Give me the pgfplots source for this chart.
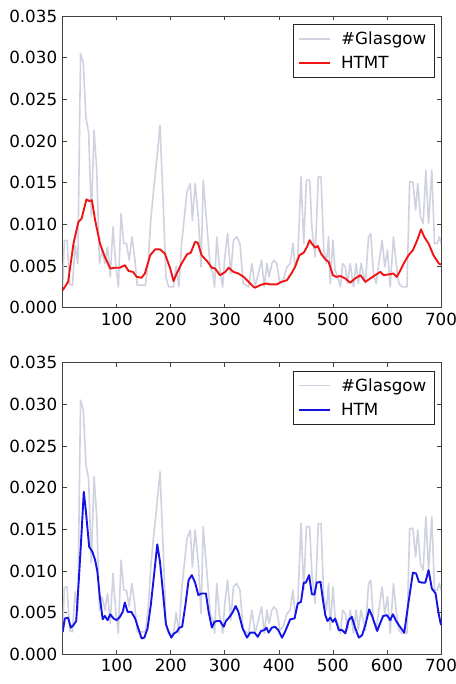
\documentclass[border=0pt]{standalone}
\usepackage{fontspec}
\setmainfont{DejaVu Sans}
\usepackage{pgfplots}
\usepackage{pgfplotstable}
\pgfplotsset{compat=1.18}

\definecolor{tweetgray}{RGB}{208,210,225}
\definecolor{htmtred}{RGB}{240,20,20}
\definecolor{htmblue}{RGB}{20,20,230}

% Normalised frequency of the #Glasgow hashtag
\pgfplotstableread{
x y
0 0.0025
3 0.0080
8 0.0081
13 0.0028
18 0.0027
23 0.0075
28 0.0053
33 0.0305
38 0.0294
43 0.0228
48 0.0210
53 0.0110
58 0.0213
63 0.0165
68 0.0053
73 0.0069
78 0.0053
83 0.0073
88 0.0037
93 0.0097
98 0.0053
103 0.0025
108 0.0113
113 0.0077
118 0.0077
123 0.0057
128 0.0085
133 0.0061
138 0.0027
143 0.0027
148 0.0027
153 0.0027
158 0.0053
163 0.0105
168 0.0140
174 0.0177
180 0.0219
186 0.0125
191 0.0037
196 0.0025
205 0.0025
210 0.0050
215 0.0025
220 0.0077
230 0.0139
236 0.0149
240 0.0105
245 0.0149
251 0.0109
256 0.0049
260 0.0153
267 0.0097
273 0.0049
278 0.0041
281 0.0025
285 0.0085
290 0.0049
296 0.0025
300 0.0061
305 0.0089
311 0.0041
316 0.0081
322 0.0085
328 0.0077
334 0.0029
344 0.0025
350 0.0053
356 0.0025
362 0.0041
368 0.0057
373 0.0025
378 0.0053
382 0.0037
387 0.0053
391 0.0057
396 0.0053
402 0.0029
408 0.0033
415 0.0049
421 0.0053
426 0.0077
430 0.0049
435 0.0061
441 0.0157
446 0.0077
451 0.0153
457 0.0153
461 0.0097
467 0.0061
473 0.0157
478 0.0157
483 0.0069
488 0.0053
492 0.0085
495 0.0029
500 0.0081
504 0.0045
509 0.0037
514 0.0025
518 0.0053
523 0.0049
527 0.0029
532 0.0053
538 0.0025
543 0.0053
547 0.0029
552 0.0053
560 0.0029
566 0.0085
570 0.0089
575 0.0041
580 0.0029
585 0.0053
591 0.0081
596 0.0049
601 0.0069
606 0.0025
612 0.0085
617 0.0053
622 0.0029
628 0.0025
633 0.0025
637 0.0025
642 0.0151
648 0.0151
653 0.0117
657 0.0149
662 0.0109
667 0.0101
672 0.0165
677 0.0101
683 0.0165
688 0.0077
693 0.0077
697 0.0085
700 0.0077
}\glasgow

% HTMT prediction
\pgfplotstableread{
x y
0 0.0021
10 0.0031
20 0.0077
29 0.0103
35 0.0107
44 0.0130
49 0.0128
54 0.0129
60 0.0105
69 0.0077
78 0.0061
88 0.0047
97 0.0048
106 0.0048
115 0.0051
122 0.0044
130 0.0043
137 0.0037
146 0.0036
152 0.0041
162 0.0063
171 0.0070
180 0.0070
189 0.0065
199 0.0047
205 0.0032
211 0.0041
220 0.0053
230 0.0064
237 0.0066
245 0.0079
250 0.0078
257 0.0063
267 0.0056
276 0.0048
282 0.0047
291 0.0039
301 0.0043
307 0.0048
316 0.0043
325 0.0041
335 0.0037
344 0.0031
353 0.0025
356 0.0024
365 0.0027
375 0.0029
384 0.0028
396 0.0028
405 0.0031
415 0.0033
424 0.0042
430 0.0049
438 0.0063
446 0.0066
452 0.0073
457 0.0081
461 0.0077
467 0.0072
472 0.0074
478 0.0065
486 0.0058
492 0.0055
500 0.0039
506 0.0037
514 0.0038
523 0.0035
532 0.0030
541 0.0035
551 0.0039
560 0.0031
569 0.0035
578 0.0039
588 0.0043
594 0.0039
603 0.0040
612 0.0041
618 0.0037
625 0.0045
631 0.0053
640 0.0063
648 0.0069
656 0.0081
663 0.0094
669 0.0085
677 0.0077
686 0.0063
696 0.0053
700 0.0052
}\htmt

% HTM prediction
\pgfplotstableread{
x y
0 0.0027
4 0.0043
10 0.0044
15 0.0032
20 0.0035
25 0.0040
30 0.0091
35 0.0147
39 0.0195
43 0.0171
49 0.0129
55 0.0123
60 0.0113
64 0.0100
69 0.0067
74 0.0042
78 0.0046
83 0.0041
88 0.0048
94 0.0043
100 0.0041
106 0.0045
111 0.0051
115 0.0062
120 0.0051
127 0.0051
134 0.0043
140 0.0031
146 0.0019
151 0.0020
157 0.0031
163 0.0059
169 0.0095
175 0.0132
180 0.0111
186 0.0071
191 0.0036
196 0.0027
201 0.0020
206 0.0025
211 0.0027
216 0.0032
221 0.0033
227 0.0059
233 0.0089
239 0.0095
245 0.0086
251 0.0071
257 0.0073
265 0.0073
270 0.0051
276 0.0032
281 0.0039
286 0.0040
291 0.0040
298 0.0033
302 0.0040
309 0.0045
315 0.0051
320 0.0058
325 0.0051
333 0.0031
341 0.0020
347 0.0026
355 0.0026
361 0.0021
367 0.0028
373 0.0029
377 0.0032
381 0.0026
387 0.0032
393 0.0033
399 0.0029
406 0.0020
412 0.0028
421 0.0042
429 0.0043
435 0.0061
441 0.0063
446 0.0086
450 0.0086
456 0.0095
461 0.0072
466 0.0072
470 0.0086
477 0.0087
482 0.0063
486 0.0047
490 0.0040
495 0.0044
500 0.0039
504 0.0043
511 0.0029
517 0.0029
523 0.0025
529 0.0041
535 0.0045
541 0.0032
548 0.0020
554 0.0023
560 0.0035
567 0.0054
573 0.0045
582 0.0028
586 0.0035
593 0.0046
600 0.0047
606 0.0041
611 0.0048
617 0.0040
623 0.0034
632 0.0026
640 0.0063
648 0.0098
654 0.0097
659 0.0087
665 0.0086
671 0.0086
677 0.0101
683 0.0079
690 0.0073
695 0.0051
700 0.0035
}\htm

\pgfplotsset{
  panel/.style={
    scale only axis,
    width=378.3bp, height=291.7bp,
    xmin=0, xmax=700, ymin=0, ymax=0.035,
    xtick={100,200,...,700},
    ytick={0,0.005,...,0.035},
    scaled y ticks=false,
    yticklabel style={
      /pgf/number format/fixed,
      /pgf/number format/fixed zerofill,
      /pgf/number format/precision=3,
      xshift=-2bp},
    /pgf/number format/assume math mode=true,
    tick label style={font=\fontsize{16.8}{20}\selectfont, text=black},
    xticklabel style={yshift=-1.5bp},
    tick align=inside,
    major tick length=4bp,
    xtick pos=both, ytick pos=both,
    axis line style={black!75, line width=0.9bp},
    every tick/.style={black!75, line width=0.7bp},
    legend cell align=left,
    legend image code/.code={%
      \path (0bp,0bp) -- (5bp,0bp);
      \draw[##1] (5bp,0bp) -- (31bp,0bp);},
    legend style={
      at={(rel axis cs:1,1)}, anchor=north east,
      xshift=-7bp, yshift=-8bp,
      draw=black!85,
      font=\fontsize{16.8}{20}\selectfont,
      inner xsep=5bp, inner ysep=5bp,
      row sep=5.5bp,
      column sep=8bp,
      nodes={inner sep=2.5bp},
    },
  },
}

\begin{document}
\begin{tikzpicture}
\begin{axis}[panel, at={(62.7bp,-307.7bp)}, anchor=south west]
  \addplot[tweetgray, line width=1.6bp, line join=round, forget plot] table {\glasgow};
  \addplot[htmtred, line width=1.9bp, line join=round, forget plot] table {\htmt};
  \addlegendimage{tweetgray, line width=1.6bp}
  \addlegendentry{\#Glasgow}
  \addlegendimage{htmtred, line width=1.9bp}
  \addlegendentry{HTMT}
\end{axis}
\begin{axis}[panel, at={(62.7bp,-654.3bp)}, anchor=south west]
  \addplot[tweetgray, line width=1.6bp, line join=round, forget plot] table {\glasgow};
  \addplot[htmblue, line width=1.9bp, line join=round, forget plot] table {\htm};
  \addlegendimage{tweetgray, line width=1.6bp}
  \addlegendentry{\#Glasgow}
  \addlegendimage{htmblue, line width=1.9bp}
  \addlegendentry{HTM}
\end{axis}
\pgfresetboundingbox
\path (0bp,0bp) rectangle (456bp,-684bp);
\end{tikzpicture}
\end{document}
